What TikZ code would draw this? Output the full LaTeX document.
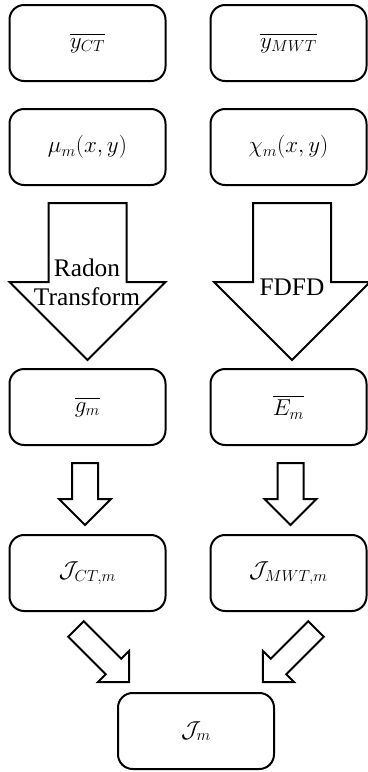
\documentclass[tikz,border=0pt]{standalone}
\usepackage{amsmath}
\usepackage{amssymb}
\usepackage{fontspec}
\setmainfont{Liberation Serif}
\usepackage{tikz}
\usetikzlibrary{positioning,calc}

% block arrow: start point, angle, length, half width of the shaft
\newcommand{\blockarrow}[4]{%
	\begin{scope}[shift={#1},rotate=#2]
		\draw[line width=1.5pt,line join=miter] (0,-#4) -- ({#3-2*#4},-#4) -- ({#3-2*#4},{-2*#4}) -- (#3,0) -- ({#3-2*#4},{2*#4}) -- ({#3-2*#4},#4) -- (0,#4) -- cycle;
	\end{scope}}

\tikzset{
	box/.style={draw, line width=1.5pt, rounded corners=11pt, minimum width=117pt, minimum height=57pt, inner sep=2pt, font=\fontsize{18}{20}\selectfont},
	label/.style={align=center, inner sep=0pt, font=\fontsize{19}{22}\selectfont}
}

\begin{document}
\begin{tikzpicture}[x=0.75pt,y=-0.75pt]
				\useasboundingbox (0,0) rectangle (368,772);
				\node[box] (yct) at (87.5, 43) {$\overline{y_{CT}}$};
				\node[box] (ymwt) at (288.5, 43) {$\overline{y_{MWT}}$};
				\node[box] (mu) at (87.5, 147) {$\mu_m(x,y)$};
				\node[box] (chi) at (288.5, 147) {$\chi_m(x,y)$};
				\node[box] (g) at (87.5, 407) {$\overline{g_m}$};
				\node[box] (E) at (288.5, 407) {$\overline{E_m}$};
				\node[box] (Jct) at (87.5, 573) {$\mathcal{J}_{CT,m}$};
				\node[box] (Jmwt) at (288.5, 573) {$\mathcal{J}_{MWT,m}$};
				\node[box] (Jm) at (196, 731) {$\mathcal{J}_m$};
				% big arrows
				\blockarrow{($(mu.south)+(0,17)$)}{-90}{157}{39}
				\blockarrow{($(chi.south)+(3.5,17)$)}{-90}{157}{39}
				\node[label] (radon) at (87, 282) {Radon\\Transform};
				\node[label] (fdfd) at (292, 287) {FDFD};
				% small arrows
				\blockarrow{($(g.south)+(-2.5,17)$)}{-90}{62}{13}
				\blockarrow{($(E.south)+(2,17)$)}{-90}{62}{13}
				\blockarrow{($(Jct.south)+(-11.5,17)$)}{-45}{75}{11}
				\blockarrow{($(Jmwt.south)+(27.5,17)$)}{-135}{75}{11}
				\end{tikzpicture}
\end{document}
